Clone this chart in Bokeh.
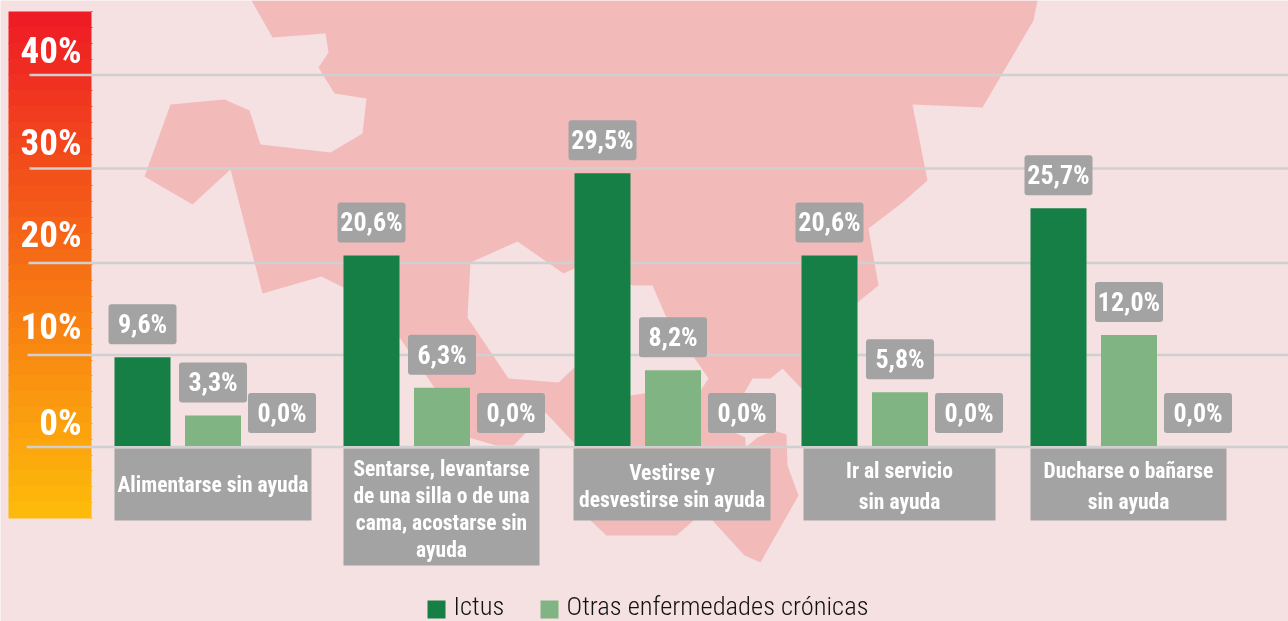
from bokeh.embed import file_html
from bokeh.resources import INLINE
from bokeh.plotting import figure
from bokeh.models import Range1d, LinearScale
from bokeh.core.properties import value

categories = [
    ["Alimentarse sin ayuda"],
    ["Sentarse, levantarse", "de una silla o de una", "cama, acostarse sin", "ayuda"],
    ["Vestirse y", "desvestirse sin ayuda"],
    ["Ir al servicio", "sin ayuda"],
    ["Ducharse o bañarse", "sin ayuda"],
]
ictus = [9.6, 20.6, 29.5, 20.6, 25.7]
otras = [3.3, 6.3, 8.2, 5.8, 12.0]
tercera = [0.0, 0.0, 0.0, 0.0, 0.0]
ticks = [40, 30, 20, 10, 0]
series_names = ["Ictus", "Otras enfermedades crónicas"]

# layout
W, H = 1288, 621
BASE_PX, PX_PER = 445.5, 9.25
BG, MAP, DARK, LIGHT, GREY, GRID = "#f5e1e2", "#f3baba", "#167f45", "#81b483", "#a3a3a3", "#d0d0d0"
FONT = "Roboto Condensed"
group_x = [142, 371, 602, 829, 1058]
off2, off3 = 70.5, 139.5
BAR_W, BOX_W, BOX_H, GAP = 56, 68, 40, 13
grid_px = [74.5, 168, 262.5, 354.5, 446.5]
tick_px = [50, 142, 234, 326, 422]
cat_boxes = [(114, 311, 520), (343, 539, 565), (573, 770, 520), (803, 995, 520), (1030, 1226, 520)]
cat_lines = [[484], [468, 495, 522, 549], [472, 499], [470, 501], [470, 501]]

p = figure(width=W, height=H, output_backend="svg", toolbar_location=None,
           x_range=Range1d(0, W), y_range=Range1d(-(H - BASE_PX) / PX_PER, BASE_PX / PX_PER),
           min_border=0, outline_line_color=None, background_fill_color=BG, border_fill_color=BG,
           styles={"position": "fixed", "left": "0", "top": "0"})
p.axis.visible = False
p.grid.visible = False
p.extra_y_ranges["px"] = Range1d(H, 0)
p.extra_y_scales["px"] = LinearScale()

# background map (decoration, traced in page pixels)
m1 = [(251,0),(272,37),(325,33),(328,52),(318,67),(334,93),(366,98),(362,133),(330,152),(260,144),
      (249,110),(224,99),(170,104),(144,176),(192,204),(230,169),(262,293),(321,276),(343,287),
      (399,337),(429,380),(468,437),(496,445),(513,445),(545,412),(574,443),(590,520),(606,535),
      (676,535),(693,520),(745,460),(745,437),(730,430),(744,392),(752,378),(770,378),(782,368),
      (801,388),(830,340),(857,302),(878,285),(868,228),(902,202),(927,180),(912,104),(982,107),
      (1033,20),(1037,0)]
hole = [(470,262),(517,241),(563,273),(574,268),(633,285),(652,285),(665,315),(697,362),(708,378),
        (700,390),(643,393),(630,395),(574,367),(558,382),(508,378),(467,317)]
m2 = [(757,437),(773,430),(786,434),(787,465),(798,495),(760,562),(744,555),(712,520),(745,470),(745,447)]
for poly, col in ((m1, MAP), (hole, BG), (m2, MAP)):
    p.patch([a for a, _ in poly], [b for _, b in poly], fill_color=col, line_color=None, y_range_name="px")

# gradient scale column
stops = [(0.0, (238, 28, 37)), (0.55, (247, 118, 19)), (1.0, (253, 186, 10))]
def grad(t):
    for (t0, c0), (t1, c1) in zip(stops, stops[1:]):
        if t <= t1:
            f = (t - t0) / (t1 - t0)
            return tuple(int(round(a + (b - a) * f)) for a, b in zip(c0, c1))
    return stops[-1][1]
n, top, bot = 32, 11, 518
ys = [round(top + (bot - top) * i / n) for i in range(n + 1)]
cols = ["#%02x%02x%02x" % grad(i / (n - 1)) for i in range(n)]
p.quad(left=8, right=91, top=ys[:-1], bottom=ys[1:], fill_color=cols, line_color=None, y_range_name="px")
p.segment(x0=8, x1=91, y0=ys[1:-1], y1=ys[1:-1], line_color=cols[1:], line_width=1, y_range_name="px")
p.segment(x0=91, x1=92, y0=ys, y1=ys, line_color=cols + cols[-1:], line_width=1, y_range_name="px")

# gridlines
xstart = [29, 29, 28, 27, 26]
p.segment(x0=xstart, x1=W, y0=grid_px, y1=grid_px, line_color=GRID, line_width=2.4, y_range_name="px")

# tick labels
p.text(x=81, y=tick_px, text=[f"{t}%" for t in ticks], text_font=value(FONT), text_font_style="bold",
       text_font_size="37px", text_color="white", text_align="right", text_baseline="middle", y_range_name="px")

# bars
p.vbar(x=group_x, top=ictus, bottom=0, width=BAR_W, fill_color=DARK, line_color=None)
p.vbar(x=[g + off2 for g in group_x], top=otras, bottom=0, width=BAR_W, fill_color=LIGHT, line_color=None)

# value labels
fmt = lambda v: f"{v:.1f}%".replace(".", ",")
for off, vals in ((0, ictus), (off2, otras), (off3, tercera)):
    xs = [g + off for g in group_x]
    p.quad(left=[x - BOX_W / 2 for x in xs], right=[x + BOX_W / 2 for x in xs],
           bottom=[v + GAP / PX_PER for v in vals], top=[v + (GAP + BOX_H) / PX_PER for v in vals],
           fill_color=GREY, line_color=None, border_radius=3)
    p.text(x=xs, y=[v + (GAP + BOX_H / 2) / PX_PER for v in vals], text=[fmt(v) for v in vals],
           text_font=value(FONT), text_font_style="bold", text_font_size="26px", text_color="white",
           text_align="center", text_baseline="middle")

# category boxes
p.quad(left=[b[0] for b in cat_boxes], right=[b[1] for b in cat_boxes], top=448,
       bottom=[b[2] for b in cat_boxes], fill_color=GREY, line_color=None, y_range_name="px")
tx, ty, tt = [], [], []
for box, lines, pys in zip(cat_boxes, categories, cat_lines):
    for line, py in zip(lines, pys):
        tx.append((box[0] + box[1]) / 2); ty.append(py); tt.append(line)
p.text(x=tx, y=ty, text=tt, text_font=value(FONT), text_font_style="bold", text_font_size="21.5px",
       text_color="white", text_align="center", text_baseline="middle", y_range_name="px")

# legend
p.quad(left=[427, 540], right=[445, 558], top=600, bottom=618, fill_color=[DARK, LIGHT], line_color=None, y_range_name="px")
p.text(x=[453, 566], y=[605, 605], text=series_names, text_font=value("Roboto Condensed Light"), text_font_style="normal",
       text_font_size="26.5px", text_color="#111111", text_align="left", text_baseline="middle", y_range_name="px")

open("out.html", "w").write(file_html(p, INLINE))
